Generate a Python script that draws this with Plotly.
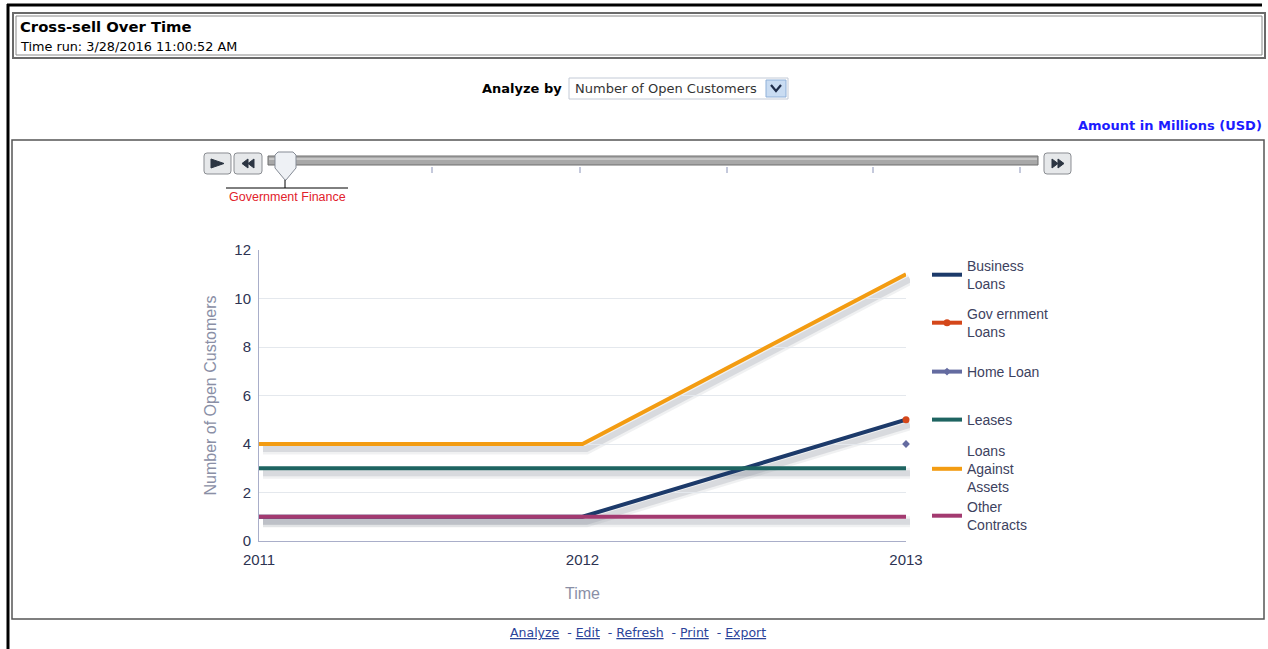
import plotly.graph_objects as go

# ---------------- data ----------------
years = [2011, 2012, 2013]
series_names = ["Business Loans", "Government Loans", "Home Loan", "Leases",
                "Loans Against Assets", "Other Contracts"]
legend_labels = ["Business<br>Loans", "Gov ernment<br>Loans", "Home Loan", "Leases",
                 "Loans<br>Against<br>Assets", "Other<br>Contracts"]
business_loans = [1, 1, 5]
government_loans = [None, None, 5]
home_loan = [None, None, 4]
leases = [3, 3, 3]
loans_against_assets = [4, 4, 11]
other_contracts = [1, 1, 1]
y_ticks = [0, 2, 4, 6, 8, 10, 12]
slider_label = "Government Finance"

values = [business_loans, government_loans, home_loan, leases,
          loans_against_assets, other_contracts]
colors = ["#1c3a6a", "#d4471a", "#646ba0", "#1e6461", "#f39c12", "#a33a70"]
modes = ["lines", "lines+markers", "lines+markers", "lines", "lines", "lines"]
symbols = ["circle", "circle", "diamond", "circle", "circle", "circle"]
msizes = [6, 7, 6, 6, 6, 6]

# ---------------- geometry helpers ----------------
W, H = 1268, 649
ML, MR, MT, MB = 259, 352, 250, 98
PW, PH = W - ML - MR, H - MT - MB  # 657 x 301


def px(x):
    return (x - ML) / PW


def py(y):
    return (H - MB - y) / PH


fig = go.Figure()

# shadows (on offset axes x/y)
for name, vals in zip(series_names, values):
    if sum(v is not None for v in vals) < 2:
        continue
    fig.add_trace(go.Scatter(x=years, y=vals, mode="lines", xaxis="x", yaxis="y",
                             line=dict(color="rgba(130,138,150,0.12)", width=11),
                             showlegend=False, hoverinfo="skip", cliponaxis=False))
    fig.add_trace(go.Scatter(x=years, y=vals, mode="lines", xaxis="x", yaxis="y",
                             line=dict(color="rgba(130,138,150,0.22)", width=6),
                             showlegend=False, hoverinfo="skip", cliponaxis=False))

# main series (on x2/y2)
for i, (name, vals) in enumerate(zip(series_names, values)):
    fig.add_trace(go.Scatter(
        x=years, y=vals, name=legend_labels[i], mode=modes[i],
        xaxis="x2", yaxis="y2", cliponaxis=False,
        line=dict(color=colors[i], width=4),
        marker=dict(color=colors[i], size=msizes[i], symbol=symbols[i]),
        legend="legend" if i == 0 else f"legend{i + 1}",
    ))

font_chart = "Liberation Sans, Arial, sans-serif"
font_ui = "DejaVu Sans, Verdana, sans-serif"

legend_centers = [275, 323, 372, 420, 469, 516]
legend_kw = {}
for i, cy in enumerate(legend_centers):
    key = "legend" if i == 0 else f"legend{i + 1}"
    legend_kw[key] = dict(
        x=px(927), y=py(cy), xanchor="left", yanchor="middle",
        bgcolor="rgba(0,0,0,0)", borderwidth=0, itemwidth=30, valign="middle",
        font=dict(family=font_chart, size=14, color="#3d4260"),
    )

shapes = []


def rect(x0, y0, x1, y1, line="#666", lw=1, fill=None):
    shapes.append(dict(type="rect", xref="paper", yref="paper",
                       x0=px(x0), x1=px(x1), y0=py(y0), y1=py(y1),
                       line=dict(color=line, width=lw),
                       fillcolor=fill if fill else "rgba(0,0,0,0)", layer="above"))


def line(x0, y0, x1, y1, color="#000", lw=1):
    shapes.append(dict(type="line", xref="paper", yref="paper",
                       x0=px(x0), x1=px(x1), y0=py(y0), y1=py(y1),
                       line=dict(color=color, width=lw), layer="above"))


def path(pts, fill, color="#000", lw=1, close=True):
    d = "M" + " L".join(f"{px(a):.5f},{py(b):.5f}" for a, b in pts)
    if close:
        d += " Z"
    shapes.append(dict(type="path", xref="paper", yref="paper", path=d,
                       fillcolor=fill, line=dict(color=color, width=lw), layer="above"))


def rrect(x0, y0, x1, y1, r, fill, color, lw=1):
    d = (f"M{px(x0 + r):.5f},{py(y0):.5f} L{px(x1 - r):.5f},{py(y0):.5f} "
         f"Q{px(x1):.5f},{py(y0):.5f} {px(x1):.5f},{py(y0 + r):.5f} "
         f"L{px(x1):.5f},{py(y1 - r):.5f} Q{px(x1):.5f},{py(y1):.5f} {px(x1 - r):.5f},{py(y1):.5f} "
         f"L{px(x0 + r):.5f},{py(y1):.5f} Q{px(x0):.5f},{py(y1):.5f} {px(x0):.5f},{py(y1 - r):.5f} "
         f"L{px(x0):.5f},{py(y0 + r):.5f} Q{px(x0):.5f},{py(y0):.5f} {px(x0 + r):.5f},{py(y0):.5f} Z")
    shapes.append(dict(type="path", xref="paper", yref="paper", path=d,
                       fillcolor=fill, line=dict(color=color, width=lw), layer="above"))


# page borders
line(7, 5, 1262, 5, "#000", 3)
line(8, 4, 8, 649, "#000", 3)
# title box (double border)
rect(13, 13, 1265, 58, "#6a6a6a", 2)
rect(16, 16, 1262, 55, "#8a8a8a", 1)
# chart frame
rect(12, 140, 1264, 619, "#555555", 1.5)

# analyze-by dropdown
rect(569, 78, 788, 99, "#c3cad6", 1, "#ffffff")
rect(766, 80, 786, 97, "#8fb0d8", 1, "#c9dcf2")
path([(771, 85), (776, 91), (781, 85)], "rgba(0,0,0,0)", "#1f2d4a", 2.2, close=False)

# slider
rrect(204, 153, 231, 174, 3, "#e6e8ea", "#8a8d92")
rrect(234, 153, 262, 174, 3, "#e6e8ea", "#8a8d92")
rrect(1044, 153, 1071, 174, 3, "#e6e8ea", "#8a8d92")
path([(211, 159), (211, 168), (224, 163.5)], "#2c3542", "#2c3542", 1)
path([(248, 159), (248, 168), (242, 163.5)], "#2c3542", "#2c3542", 1)
path([(254, 159), (254, 168), (248, 163.5)], "#2c3542", "#2c3542", 1)
path([(1052, 159), (1052, 168), (1058, 163.5)], "#2c3542", "#2c3542", 1)
path([(1058, 159), (1058, 168), (1064, 163.5)], "#2c3542", "#2c3542", 1)
rect(268, 156, 1038, 165, "#6f6f6f", 1, "#a8a8a8")
line(269, 159, 1037, 159, "#d0d0d0", 1.5)
for tx in [432, 580, 727, 873, 1020]:
    line(tx, 167, tx, 173, "#8a93b8", 1)
path([(278, 152), (293, 152), (296, 155), (296, 168), (286, 180), (285, 180),
      (275, 168), (275, 155)], "#eef1f5", "#858b95", 1)
line(285, 180, 285, 188, "#000", 1)
line(226, 188, 348, 188, "#000", 1)

annotations = [
    dict(text="<b>Cross-sell Over Time</b>", x=px(18), y=py(27), xanchor="left", yanchor="middle",
         font=dict(family=font_ui, size=14.8, color="#000")),
    dict(text="Time run: 3/28/2016 11:00:52 AM", x=px(18), y=py(46), xanchor="left", yanchor="middle",
         font=dict(family=font_ui, size=12.8, color="#000")),
    dict(text="<b>Analyze by</b>", x=px(564), y=py(89), xanchor="right", yanchor="middle",
         font=dict(family=font_ui, size=13, color="#000")),
    dict(text="Number of Open Customers", x=px(573), y=py(89), xanchor="left", yanchor="middle",
         font=dict(family=font_ui, size=13, color="#333")),
    dict(text="<b>Amount in Millions (USD)</b>", x=px(1264), y=py(126), xanchor="right", yanchor="middle",
         font=dict(family=font_ui, size=13, color="#1c1cff")),
    dict(text=slider_label, x=px(287), y=py(197), xanchor="center", yanchor="middle",
         font=dict(family=font_chart, size=12.5, color="#e2222c")),
    dict(text="<u>Analyze</u>  - <u>Edit</u>  - <u>Refresh</u>  - <u>Print</u>  - <u>Export</u>",
         x=px(638), y=py(632), xanchor="center", yanchor="middle",
         font=dict(family=font_ui, size=12.5, color="#2b449a")),
]
for a in annotations:
    a.update(xref="paper", yref="paper", showarrow=False)

fig.update_layout(
    width=W, height=H,
    margin=dict(l=ML, r=MR, t=MT, b=MB, autoexpand=False),
    paper_bgcolor="#ffffff", plot_bgcolor="rgba(0,0,0,0)",
    font=dict(family=font_chart),
    showlegend=True,
    xaxis=dict(domain=[4 / PW, (PW - 6) / PW], range=[2011, 2013], visible=False,
               anchor="y", fixedrange=True),
    yaxis=dict(domain=[5 / PH, (PH - 5) / PH], range=[0, 12], visible=False,
               anchor="x", fixedrange=True),
    xaxis2=dict(domain=[0, (PW - 10) / PW], range=[2011, 2013], anchor="y2",
                tickmode="array", tickvals=years, ticktext=[str(v) for v in years],
                showgrid=False, zeroline=False, showline=True, linecolor="#a9aec9", linewidth=1,
                ticks="", ticklabelstandoff=5,
                tickfont=dict(family=font_chart, size=15, color="#2d3352"),
                title=dict(text="Time", font=dict(family=font_chart, size=16, color="#8a8fa6"),
                           standoff=20)),
    yaxis2=dict(domain=[10 / PH, 1], range=[0, 12], anchor="x2",
                tickmode="array", tickvals=y_ticks,
                showgrid=True, gridcolor="#e4e8ed", gridwidth=1, zeroline=False,
                showline=True, linecolor="#a9aec9", linewidth=1, ticks="",
                ticklabelstandoff=4,
                tickfont=dict(family=font_chart, size=15, color="#2d3352"),
                title=dict(text="Number of Open Customers",
                           font=dict(family=font_chart, size=16, color="#8a8fa6"), standoff=13)),
    shapes=shapes,
    annotations=annotations,
    **legend_kw,
)

fig.write_html("out.html", config={"displayModeBar": False},
               post_script="document.body.style.margin='0';document.body.style.overflow='hidden';")
